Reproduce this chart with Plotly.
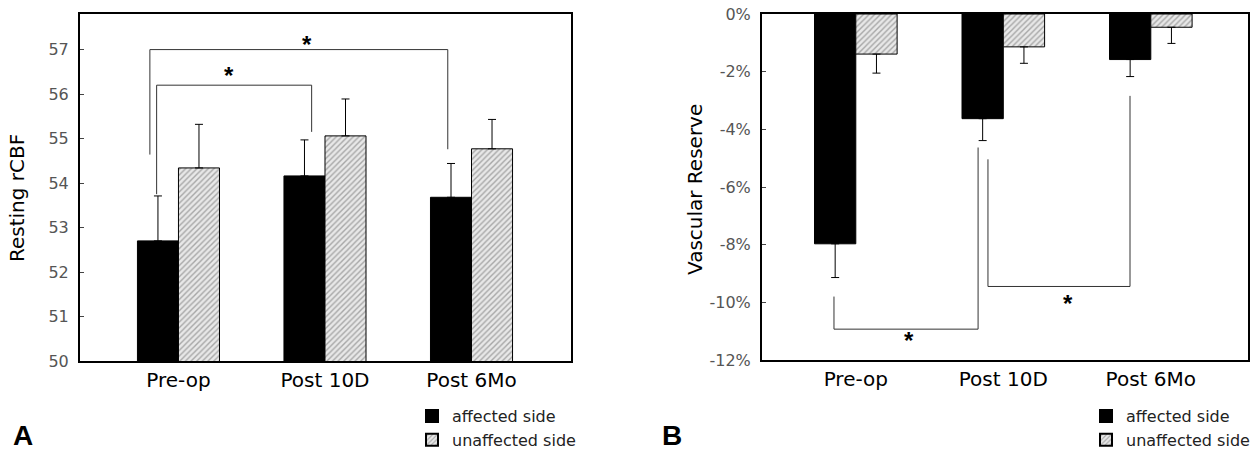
import plotly.graph_objects as go

# ---------------- data ----------------
categories = ["Pre-op", "Post 10D", "Post 6Mo"]
series_names = ["affected side", "unaffected side"]

# Panel A: resting rCBF (mean, upper error)
rcbf_affected = [52.70, 54.16, 53.68]
rcbf_affected_err = [1.01, 0.81, 0.76]
rcbf_unaffected = [54.34, 55.06, 54.77]
rcbf_unaffected_err = [0.98, 0.83, 0.66]
rcbf_ticks = [50, 51, 52, 53, 54, 55, 56, 57]

# Panel B: vascular reserve in % (mean, lower error)
vr_affected = [-7.97, -3.63, -1.58]
vr_affected_err = [1.17, 0.76, 0.59]
vr_unaffected = [-1.39, -1.14, -0.46]
vr_unaffected_err = [0.66, 0.57, 0.56]
vr_ticks = [0, -2, -4, -6, -8, -10, -12]
vr_tick_labels = ["0%", "-2%", "-4%", "-6%", "-8%", "-10%", "-12%"]

# ---------------- styles ----------------
FONT = "DejaVu Sans"
TICK_GRAY = "#555555"
W, H = 1257, 453
zeros = [0] * len(categories)

aff_marker = dict(color="black", line=dict(color="black", width=1))
unaff_marker = dict(
    color="#dddddd",
    line=dict(color="black", width=1),
    pattern=dict(shape="/", fgcolor="#666666", bgcolor="#e8e8e8", size=4, solidity=0.35),
)
err_style = dict(type="data", symmetric=False, color="black", thickness=1, width=4)

fig = go.Figure()

# Panel A bars
fig.add_trace(go.Bar(
    x=categories, y=rcbf_affected, name=series_names[0], marker=aff_marker,
    error_y=dict(array=rcbf_affected_err, arrayminus=zeros, **err_style),
    xaxis="x", yaxis="y", legend="legend"))
fig.add_trace(go.Bar(
    x=categories, y=rcbf_unaffected, name=series_names[1], marker=unaff_marker,
    error_y=dict(array=rcbf_unaffected_err, arrayminus=zeros, **err_style),
    xaxis="x", yaxis="y", legend="legend"))

# Panel B bars
fig.add_trace(go.Bar(
    x=categories, y=vr_affected, name=series_names[0], marker=aff_marker,
    error_y=dict(array=zeros, arrayminus=vr_affected_err, **err_style),
    xaxis="x2", yaxis="y2", legend="legend2"))
fig.add_trace(go.Bar(
    x=categories, y=vr_unaffected, name=series_names[1], marker=unaff_marker,
    error_y=dict(array=zeros, arrayminus=vr_unaffected_err, **err_style),
    xaxis="x2", yaxis="y2", legend="legend2"))

# ---------------- significance brackets ----------------
# (xref, yref, left leg x, left leg end y, right leg x, right leg end y, bar level y, star x, star y)
brackets = [
    ("x", "y", -0.195, 54.64, 1.838, 54.76, 57.00, 0.875, 57.12),
    ("x", "y", -0.149, 53.75, 0.909, 55.15, 56.20, 0.347, 56.42),
    ("x2", "y2", -0.148, -9.80, 0.829, -4.63, -10.93, 0.358, -11.33),
    ("x2", "y2", 0.896, -5.04, 1.859, -2.84, -9.45, 1.439, -10.05),
]
line_style = dict(color="#333333", width=1)
shapes = []
annotations = []
for xr, yr, xl, yl, xrr, yrr, lvl, sx, sy in brackets:
    shapes.append(dict(type="line", xref=xr, yref=yr, x0=xl, x1=xl, y0=yl, y1=lvl, line=line_style))
    shapes.append(dict(type="line", xref=xr, yref=yr, x0=xl, x1=xrr, y0=lvl, y1=lvl, line=line_style))
    shapes.append(dict(type="line", xref=xr, yref=yr, x0=xrr, x1=xrr, y0=lvl, y1=yrr, line=line_style))
    annotations.append(dict(xref=xr, yref=yr, x=sx, y=sy, text="<b>*</b>", showarrow=False,
                            xanchor="center", yanchor="middle",
                            font=dict(family="Liberation Sans", size=24, color="black")))

# axis titles & panel letters
label_common = dict(xref="paper", yref="paper", showarrow=False, xanchor="center", yanchor="middle")
panel_common = dict(xref="paper", yref="paper", showarrow=False, xanchor="center", yanchor="bottom",
                    borderpad=0, font=dict(family="Liberation Sans", size=28, color="black"))
annotations += [
    dict(x=17 / W, y=1 - 198 / H, text="Resting rCBF", textangle=-90,
         font=dict(family=FONT, size=20, color="black"), **label_common),
    dict(x=695 / W, y=1 - 190 / H, text="Vascular Reserve", textangle=-90,
         font=dict(family=FONT, size=20, color="black"), **label_common),
    dict(x=23 / W, y=0.002, text="<b>A</b>", **panel_common),
    dict(x=672 / W, y=0.002, text="<b>B</b>", **panel_common),
]

frame = dict(showline=True, mirror=True, linecolor="black", linewidth=2, showgrid=False,
             zeroline=False, automargin=False)
xcat = dict(type="category", ticks="", tickfont=dict(family=FONT, size=20, color="black"), **frame)
ytick = dict(ticks="inside", ticklen=4, tickcolor="#444444", ticklabelstandoff=6,
             tickfont=dict(family=FONT, size=16, color=TICK_GRAY), **frame)

legend_style = dict(font=dict(family=FONT, size=16, color="#222222"), bgcolor="rgba(0,0,0,0)",
                    orientation="v", xanchor="left", yanchor="top", traceorder="normal",
                    itemsizing="constant", tracegroupgap=0)

fig.update_layout(
    width=W, height=H,
    margin=dict(l=0, r=0, t=0, b=0, autoexpand=False),
    paper_bgcolor="white", plot_bgcolor="white",
    barmode="group", bargap=0.44, bargroupgap=0,
    showlegend=True,
    xaxis=dict(domain=[80 / W, 571 / W], range=[-0.672, 2.679], anchor="y", **xcat),
    yaxis=dict(domain=[1 - 361 / H, 1 - 14 / H], range=[50, 57.8], tickvals=rcbf_ticks,
               anchor="x", **ytick),
    xaxis2=dict(domain=[762 / W, 1248 / W], range=[-0.636, 2.659], anchor="y2", **xcat),
    yaxis2=dict(domain=[1 - 360 / H, 1 - 14 / H], range=[-12, 0], tickvals=vr_ticks,
                ticktext=vr_tick_labels, anchor="x2", **ytick),
    legend=dict(x=412 / W, y=1 - 399 / H, **legend_style),
    legend2=dict(x=1086 / W, y=1 - 399 / H, **legend_style),
    shapes=shapes,
    annotations=annotations,
)

fig.write_html(
    "out.html",
    config={"displayModeBar": False},
    post_script="document.body.style.margin='0';document.body.style.overflow='hidden';",
)
